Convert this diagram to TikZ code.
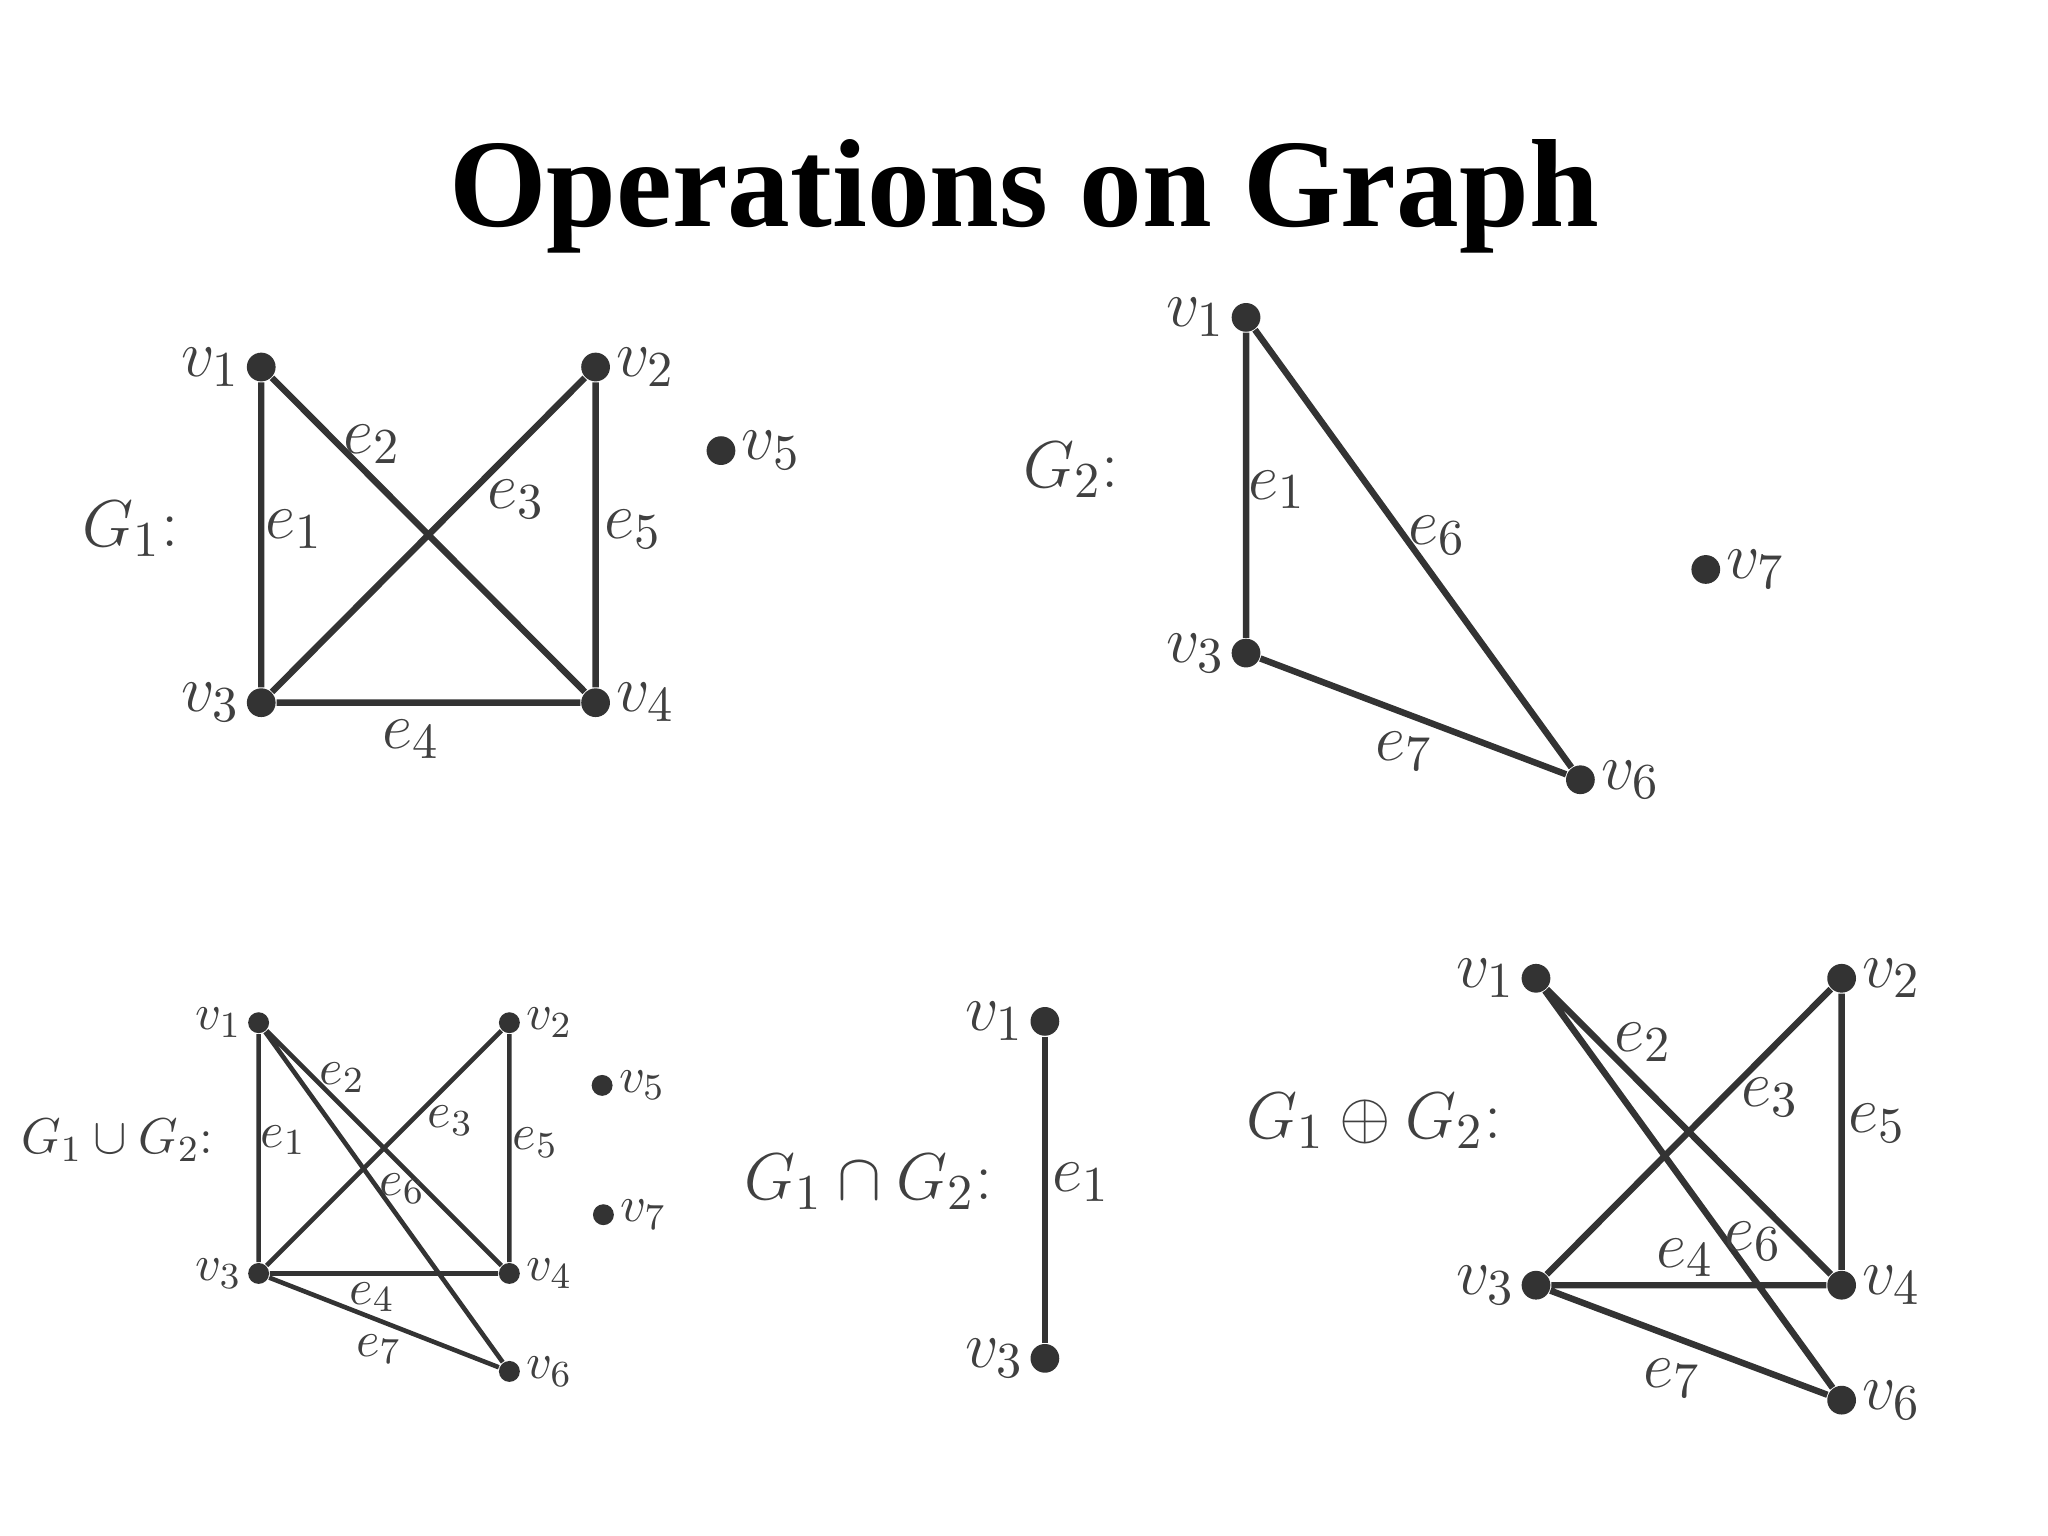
\documentclass[tikz,border=0pt]{standalone}
\usepackage{fontspec}
\newfontfamily\titlefont{Liberation Serif}
\begin{document}
\begin{tikzpicture}[x=0.01cm,y=-0.01cm,
  V/.style={circle,fill=black!80,inner sep=0pt,minimum size=0.22cm},
  v/.style={circle,fill=black!80,inner sep=0pt,minimum size=0.16cm},
  E/.style={black!80,line width=1.4pt},
  e/.style={black!80,line width=1pt},
  L/.style={text=black!75,inner sep=1pt,font=\fontsize{15}{15}\selectfont},
  l/.style={text=black!75,inner sep=1pt,font=\fontsize{11}{11}\selectfont}]
\useasboundingbox (0,0) rectangle (1568,1176);
\node[font=\titlefont\bfseries\fontsize{27.3}{28}\selectfont] (title) at (784,150) {Operations on Graph};
% G1
\node[L] (g1) at (100,405) {$G_1$:};
\node[V,label={[L]left:$v_1$}] (a1) at (200,281) {};
\node[V,label={[L]right:$v_2$}] (a2) at (456,281) {};
\node[V,label={[L]left:$v_3$}] (a3) at (200,538) {};
\node[V,label={[L]right:$v_4$}] (a4) at (456,538) {};
\node[V,label={[L]right:$v_5$}] (a5) at (552,345) {};
\draw[E] (a1)--(a3) (a1)--(a4) (a3)--(a2) (a2)--(a4) (a3)--(a4);
\node[L] at (225,405) {$e_1$};\node[L] at (285,340) {$e_2$};\node[L] at (395,382) {$e_3$};
\node[L] at (485,405) {$e_5$};\node[L] at (315,566) {$e_4$};
% G2
\node[L] (g2) at (820,360) {$G_2$:};
\node[V,label={[L]left:$v_1$}] (b1) at (954,243) {};
\node[V,label={[L]left:$v_3$}] (b3) at (954,500) {};
\node[V,label={[L]right:$v_6$}] (b6) at (1210,597) {};
\node[V,label={[L]right:$v_7$}] (b7) at (1306,436) {};
\draw[E] (b1)--(b3) (b1)--(b6) (b3)--(b6);
\node[L] at (978,375) {$e_1$};\node[L] at (1100,410) {$e_6$};\node[L] at (1075,575) {$e_7$};
% union
\node[l] (g3) at (90,873) {$G_1\cup G_2$:};
\node[v,label={[l]left:$v_1$}] (c1) at (198,783) {};
\node[v,label={[l]right:$v_2$}] (c2) at (390,783) {};
\node[v,label={[l]left:$v_3$}] (c3) at (198,975) {};
\node[v,label={[l]right:$v_4$}] (c4) at (390,975) {};
\node[v,label={[l]right:$v_5$}] (c5) at (461,831) {};
\node[v,label={[l]right:$v_7$}] (c7) at (462,930) {};
\node[v,label={[l]right:$v_6$}] (c6) at (390,1050) {};
\draw[e] (c1)--(c3) (c1)--(c4) (c1)--(c6) (c3)--(c2) (c2)--(c4) (c3)--(c4) (c3)--(c6);
\node[l] at (217,873) {$e_1$};\node[l] at (262,825) {$e_2$};\node[l] at (345,858) {$e_3$};
\node[l] at (410,875) {$e_5$};\node[l] at (308,910) {$e_6$};\node[l] at (285,993) {$e_4$};
\node[l] at (290,1033) {$e_7$};
% intersection
\node[L] (g4) at (665,905) {$G_1\cap G_2$:};
\node[V,label={[L]left:$v_1$}] (d1) at (800,782) {};
\node[V,label={[L]left:$v_3$}] (d3) at (800,1040) {};
\draw[E] (d1)--(d3);
\node[L] at (828,905) {$e_1$};
% ring sum
\node[L] (g5) at (1052,858) {$G_1\oplus G_2$:};
\node[V,label={[L]left:$v_1$}] (f1) at (1176,749) {};
\node[V,label={[L]right:$v_2$}] (f2) at (1410,749) {};
\node[V,label={[L]left:$v_3$}] (f3) at (1176,984) {};
\node[V,label={[L]right:$v_4$}] (f4) at (1410,984) {};
\node[V,label={[L]right:$v_6$}] (f6) at (1410,1072) {};
\draw[E] (f1)--(f4) (f1)--(f6) (f3)--(f2) (f2)--(f4) (f3)--(f4) (f3)--(f6);
\node[L] at (1258,798) {$e_2$};\node[L] at (1355,840) {$e_3$};\node[L] at (1437,860) {$e_5$};
\node[L] at (1290,963) {$e_4$};\node[L] at (1342,950) {$e_6$};\node[L] at (1280,1055) {$e_7$};
\end{tikzpicture}
\end{document}
